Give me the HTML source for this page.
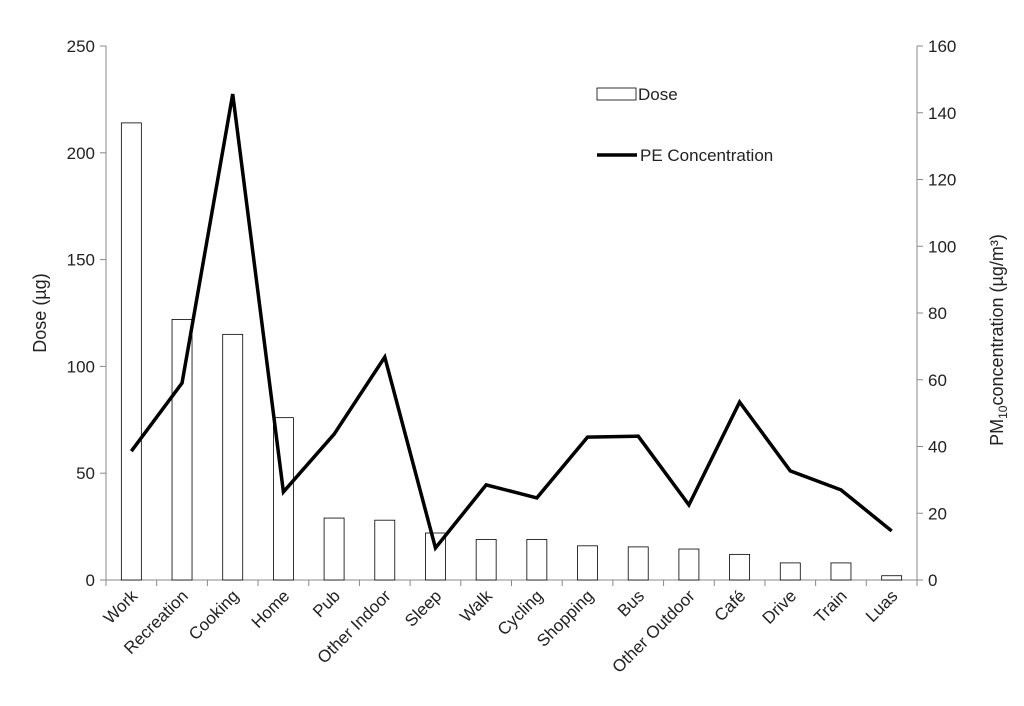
<!DOCTYPE html>
<html><head><meta charset="utf-8">
<style>
html,body{margin:0;padding:0;background:#fff;}
svg{display:block;font-family:"Liberation Sans",Arial,sans-serif;}
</style></head>
<body>
<svg id="chart" width="1024" height="706" viewBox="0 0 1024 706" xmlns="http://www.w3.org/2000/svg"></svg>
<script>
const categories = ["Work","Recreation","Cooking","Home","Pub","Other Indoor","Sleep","Walk","Cycling","Shopping","Bus","Other Outdoor","Café","Drive","Train","Luas"];
const doseValues = [214,122,115,76,29,28,22,19,19,16,15.5,14.5,12,8,8,2];
const concValues = [38.6,59,145.6,26.4,43.7,66.8,9.6,28.5,24.6,42.8,43.1,22.5,53.3,32.7,27,14.7];
const leftTicks = [0,50,100,150,200,250];
const rightTicks = [0,20,40,60,80,100,120,140,160];

const NS = "http://www.w3.org/2000/svg";
const svg = document.getElementById("chart");
const X0 = 106, X1 = 917, Y0 = 580, Y1 = 46;
const band = (X1 - X0) / categories.length;
const xC = i => X0 + band * (i + 0.5);
const yL = v => Y0 - (v / 250) * (Y0 - Y1);
const yR = v => Y0 - (v / 160) * (Y0 - Y1);
function el(tag, attrs, parent) {
  const e = document.createElementNS(NS, tag);
  for (const k in attrs) e.setAttribute(k, attrs[k]);
  (parent || svg).appendChild(e);
  return e;
}

let a = el("line", {x1:X0,y1:Y1,x2:X0,y2:Y0,stroke:"#888","stroke-width":1});


a = el("line", {x1:X1,y1:Y1,x2:X1,y2:Y0,stroke:"#888","stroke-width":1});


a = el("line", {x1:X0,y1:Y0,x2:X1,y2:Y0,stroke:"#888","stroke-width":1});



leftTicks.forEach(v => {
  const y = yL(v);
  el("line", {x1:X0-6,y1:y,x2:X0,y2:y,stroke:"#888"});
  const t = el("text", {x:X0-11,y:y+6,"text-anchor":"end","font-size":17,fill:"#222"});
  t.textContent = v;
  
  
});
rightTicks.forEach(v => {
  const y = yR(v);
  el("line", {x1:X1,y1:y,x2:X1+6,y2:y,stroke:"#888"});
  const t = el("text", {x:X1+11,y:y+6,"text-anchor":"start","font-size":17,fill:"#222"});
  t.textContent = v;
  
  
});
for (let i = 0; i <= categories.length; i++) {
  el("line", {x1:X0+band*i,y1:Y0,x2:X0+band*i,y2:Y0+6,stroke:"#888"});
}

doseValues.forEach((v, i) => {
  const r = el("rect", {x:xC(i)-10,y:yL(v),width:20,height:Y0-yL(v),fill:"#fff",stroke:"#000","stroke-width":0.8});
  
  
});

const pts = concValues.map((v, i) => xC(i) + "," + yR(v)).join(" ");
const pl = el("polyline", {points:pts,fill:"none",stroke:"#000","stroke-width":3.5,"stroke-linejoin":"miter"});



categories.forEach((c, i) => {
  const x = xC(i) + 7, y = Y0 + 17;
  const t = el("text", {x:x,y:y,"text-anchor":"end","font-size":17,fill:"#222",transform:`rotate(-45 ${x} ${y})`});
  t.textContent = c;
  
  
});

let t = el("text", {x:46,y:313,"text-anchor":"middle","font-size":18,fill:"#222",transform:"rotate(-90 46 313)"});
t.textContent = "Dose (µg)";


t = el("text", {x:1003,y:340,"text-anchor":"middle","font-size":18,fill:"#222",transform:"rotate(-90 1003 340)"});
t.innerHTML = 'PM<tspan font-size="12" dy="4">10</tspan><tspan dy="-4">concentration (µg/m³)</tspan>';



const lg = el("g", {});


let r = el("rect", {x:597,y:88,width:39,height:12,fill:"#fff",stroke:"#000","stroke-width":0.8}, lg);


t = el("text", {x:638,y:100,"font-size":17,fill:"#222"}, lg);
t.textContent = "Dose";


let l = el("line", {x1:597,y1:155,x2:637,y2:155,stroke:"#000","stroke-width":3.5}, lg);


t = el("text", {x:640,y:161,"font-size":17,fill:"#222"}, lg);
t.textContent = "PE Concentration";


</script>
</body></html>
